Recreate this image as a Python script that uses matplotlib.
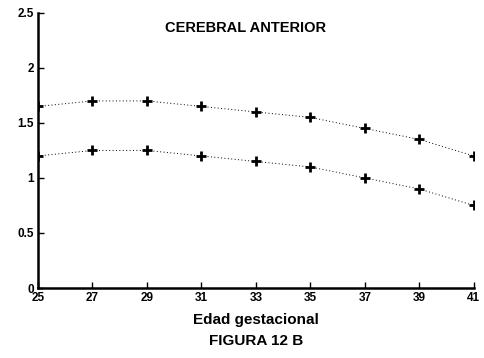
import matplotlib
matplotlib.use("Agg")
import matplotlib.pyplot as plt

# Gestational age (weeks) and the two reference curves
EDAD = [25, 27, 29, 31, 33, 35, 37, 39, 41]
SUPERIOR = [1.65, 1.70, 1.70, 1.65, 1.60, 1.55, 1.45, 1.35, 1.20]
INFERIOR = [1.20, 1.25, 1.25, 1.20, 1.15, 1.10, 1.00, 0.90, 0.75]
Y_TICKS = [0, 0.5, 1, 1.5, 2, 2.5]
Y_LABELS = ["0", "0.5", "1", "1.5", "2", "2.5"]

plt.rcParams["font.family"] = ["Liberation Sans", "DejaVu Sans"]
plt.rcParams["font.weight"] = "bold"

fig = plt.figure(figsize=(4.84, 3.58), dpi=100)
ax = fig.add_axes([0.0785, 0.1955, 0.9005, 0.7685])

for serie in (SUPERIOR, INFERIOR):
    ax.plot(EDAD, serie, color="black", linestyle=(0, (1, 2.5)), linewidth=0.7,
            marker="+", markersize=7, markeredgewidth=2.0)

ax.set_xlim(25, 41)
ax.set_ylim(0, 2.5)
ax.set_xticks(EDAD)
ax.set_xticklabels([str(e) for e in EDAD], fontsize=8.5, fontweight="bold")
ax.set_yticks(Y_TICKS)
ax.set_yticklabels(Y_LABELS, fontsize=8.5, fontweight="bold")
ax.tick_params(direction="in", length=4, width=1.0, pad=3)

for s in ("top", "right"):
    ax.spines[s].set_visible(False)
for s in ("left", "bottom"):
    ax.spines[s].set_linewidth(1.8)

ax.set_xlabel("Edad gestacional", fontsize=11, fontweight="bold", labelpad=6)
ax.text(0.475, 0.945, "CEREBRAL ANTERIOR", transform=ax.transAxes,
        ha="center", va="center", fontsize=10.5, fontweight="bold")
fig.text(0.53, 0.047, "FIGURA 12 B", ha="center", va="center",
         fontsize=11, fontweight="bold")

fig.savefig("out.png", dpi=100)
